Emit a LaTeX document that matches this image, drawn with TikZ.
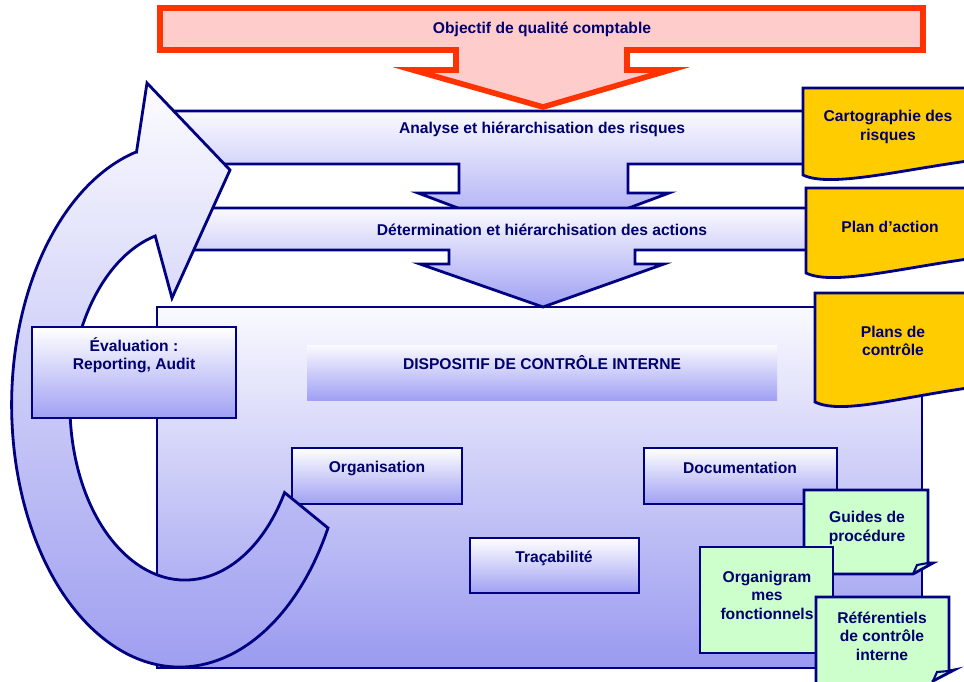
\documentclass[tikz,border=0pt]{standalone}
\usepackage{fontspec}
\setmainfont{Liberation Sans}
\definecolor{navy}{HTML}{000080}
\definecolor{encre}{HTML}{00006E}
\definecolor{pale}{HTML}{FAFAFF}
\definecolor{lav}{HTML}{A0A0F4}
\definecolor{lavf}{HTML}{9999F0}
\definecolor{rouge}{HTML}{FF3300}
\definecolor{rose}{HTML}{FFCCCC}
\definecolor{jaune}{HTML}{FFCC00}
\definecolor{vert}{HTML}{CCFFCC}
\begin{document}
\begin{tikzpicture}[x=0.02cm, y=-0.02cm,
  trait/.style={draw=navy, line width=1.6pt, line join=miter},
  bande/.style={trait, top color=pale, bottom color=lav},
  boite/.style={trait, top color=white, bottom color=lav},
  doc/.style={trait, fill=jaune},
  note/.style={trait, fill=vert},
  lbl/.style={text=encre, font=\bfseries\fontsize{8.9}{10.5}\selectfont, align=center, inner sep=0pt}]

\useasboundingbox (0,0) rectangle (964,681);

% The internal control frame
\draw[trait, top color=pale, bottom color=lavf] (157,307) rectangle (922,668);
\shade[top color=pale, bottom color=lav] (307,345) rectangle (777,400);
\node[lbl] (dispositif) at (542,363) {DISPOSITIF DE CONTRÔLE INTERNE};

% The two bands with their arrows
\draw[bande] (168,111) -- (820,111) -- (820,164) -- (628,164) -- (628,193) -- (669,193)
  -- (543,240) -- (418,193) -- (459,193) -- (459,164) -- (168,164) -- cycle;
\draw[bande] (168,208) -- (820,208) -- (820,250) -- (635,250) -- (635,264) -- (664,264)
  -- (543,307) -- (420,264) -- (449,264) -- (449,250) -- (168,250) -- cycle;
\node[lbl] (analyse) at (542,129) {Analyse et hiérarchisation des risques};
\node[lbl] (actions) at (542,230) {Détermination et hiérarchisation des actions};

% Boxes inside the frame
\draw[boite] (292,448) rectangle (462,504);
\draw[boite] (644,448) rectangle (837,504);
\draw[boite] (470,538) rectangle (639,593);
\node[lbl] (orga) at (377,468) {Organisation};
\node[lbl] (docu) at (740,468) {Documentation};
\node[lbl] (traca) at (554,558) {Traçabilité};

% The loop arrow
\draw[trait, top color=pale!60!white, bottom color=lavf] (136.5,152) -- (147,83) -- (230,170) -- (172,298) -- (155.2,236)
  arc[start angle=255, end angle=30, x radius=115, y radius=175]
  -- (328,528) arc[start angle=28, end angle=255, x radius=168, y radius=262] -- cycle;

\draw[boite] (32,327) rectangle (236,418);
\node[lbl] (eval) at (134,355) {Évaluation :\\Reporting, Audit};

% Yellow documents
\foreach \xa/\ya/\yb/\tx/\ty/\nom/\txt in {803/88/175/888/127/carto/{Cartographie des\\risques},
    806/188/273/890/227/plan/{Plan d'action},
    815/293/402/893/341/ctrl/{Plans de\\contrôle}}{
  \draw[doc] (\xa,\ya) -- (975,\ya) -- (975,\yb-15) .. controls (900,\yb-5) and (\xa+27,\yb+13) .. (\xa,\yb) -- cycle;
  \node[lbl] (\nom) at (\tx,\ty) {\txt};
}

% Green notes
\draw[note] (804,490) -- (928,490) -- (928,563) -- (933,563) -- (913,574) -- (804,574) -- cycle;
\draw[trait, line width=1.2pt] (913,574) -- (917,565) -- (928,563);
\node[lbl] (guides) at (867,528) {Guides de\\procédure};

\draw[note] (700,547) rectangle (833,653);
\node[lbl] (organi) at (767,595) {Organigram\\mes\\fonctionnels};

\draw[note] (816,597) -- (949,597) -- (949,671) -- (954,670) -- (933,681) -- (933,690) -- (816,690) -- cycle;
\draw[trait, line width=1.2pt] (933,681) -- (937,672) -- (949,671);
\node[lbl] (refer) at (882,636) {Référentiels\\de contrôle\\interne};

% The objective banner
\draw[draw=rouge, line width=3.2pt, line join=miter, fill=rose] (160,8) -- (923,8) -- (923,50) -- (627,50)
  -- (627,70) -- (670,70) -- (543,107) -- (413,70) -- (456,70) -- (456,50) -- (160,50) -- cycle;
\node[lbl] (objectif) at (542,29) {Objectif de qualité comptable};

\end{tikzpicture}
\end{document}
